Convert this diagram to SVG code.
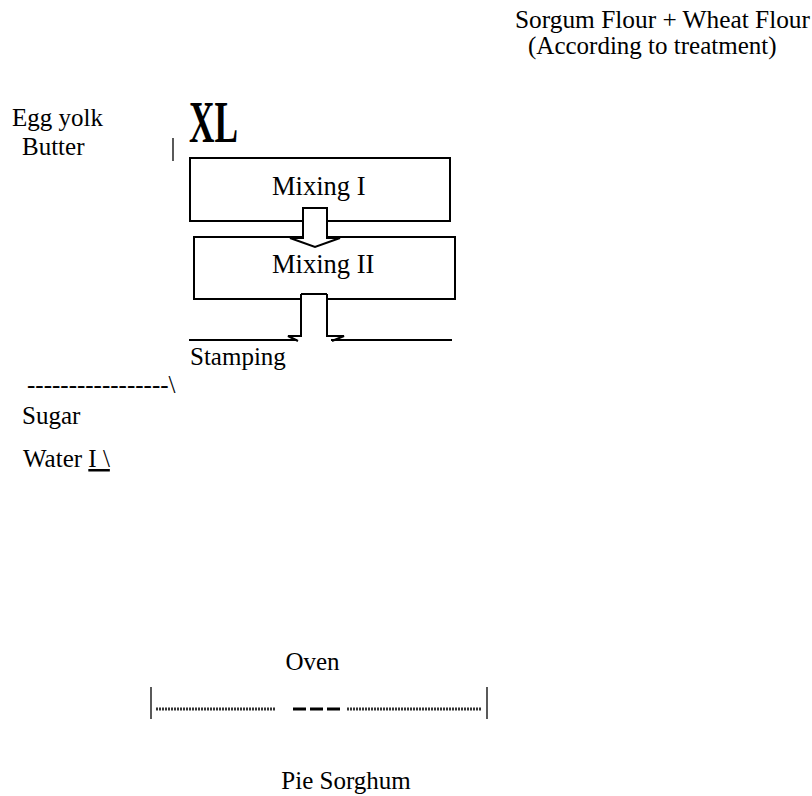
<svg xmlns="http://www.w3.org/2000/svg" width="812" height="796" viewBox="0 0 812 796" font-family="'Liberation Serif', 'Times New Roman', serif">
<style>
text{font-family:'Liberation Serif','Times New Roman',serif;font-size:25px;fill:#000}
.mx{font-size:26.5px}
.box{fill:#fff;stroke:#000;stroke-width:2}
.ln{stroke:#000;stroke-width:2;fill:none}
.thin{stroke:#000;stroke-width:1.3;fill:none}
.arr{fill:#fff;stroke:#000;stroke-width:2;stroke-linejoin:miter}
.dot{stroke:#333;stroke-width:3;stroke-dasharray:2 1;fill:none}
</style>
<rect width="812" height="796" fill="#fff"/>
<g id="flour"><text x="515" y="28" textLength="295" lengthAdjust="spacingAndGlyphs">Sorgum Flour + Wheat Flour</text><text x="528" y="54">(According to treatment)</text></g>
<g id="eggbutter"><text x="12" y="126">Egg yolk</text><text x="22" y="155">Butter</text><line class="thin" x1="173" y1="138" x2="173" y2="161"/></g>
<g id="xl"><text x="189" y="142" style="font-size:59px;font-weight:bold" textLength="49" lengthAdjust="spacingAndGlyphs">XL</text></g>
<g id="mixing1"><rect class="box" x="190" y="158" width="260" height="63"/><text class="mx" x="272" y="195">Mixing I</text></g>
<g id="mixing2"><rect class="box" x="194" y="237" width="261" height="62"/><text class="mx" x="272" y="273">Mixing II</text></g>
<g id="connectors">
<polygon class="arr" points="303,208 327,208 327,238 340,238 315,247 290,238 303,238"/>
<rect x="302" y="293" width="24" height="44" fill="#fff"/>
<polyline class="ln" points="301,294 327,294"/>
<polyline class="ln" points="301,294 301,336 288,336 298,341"/>
<polyline class="ln" points="327,294 327,336 344,336 332,341"/>
<line class="ln" x1="189" y1="340" x2="297" y2="340"/>
<line class="ln" x1="331" y1="340" x2="452" y2="340"/>
</g>
<g id="stamping"><text x="190" y="365">Stamping</text></g>
<g id="dashes"><text x="27" y="393">-----------------\</text></g>
<g id="sugar"><text x="22" y="424">Sugar</text></g>
<g id="water"><text x="23" y="467">Water <tspan text-decoration="underline">I \</tspan></text></g>
<g id="oven"><text x="312.5" y="670" text-anchor="middle">Oven</text>
<line class="thin" x1="151" y1="687" x2="151" y2="719"/>
<line class="thin" x1="487" y1="687" x2="487" y2="719"/>
<line class="dot" x1="156" y1="709" x2="276" y2="709"/>
<line x1="293" y1="709" x2="340" y2="709" stroke="#000" stroke-width="3" stroke-dasharray="13 4"/>
<line class="dot" x1="347" y1="709" x2="482" y2="709"/>
</g>
<g id="pie"><text x="346" y="789" text-anchor="middle">Pie Sorghum</text></g>
</svg>
